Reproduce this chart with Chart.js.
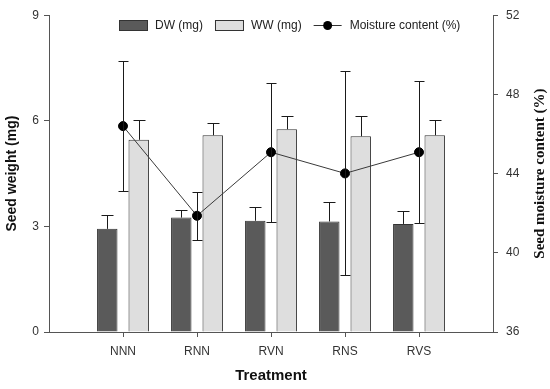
<!DOCTYPE html>
<html>
<head>
<meta charset="utf-8">
<script src="https://cdn.jsdelivr.net/npm/chart.js@4"></script>
<style>body{margin:0;background:#fff}</style>
</head>
<body>
<canvas id="cnv" width="550" height="389"></canvas>
<script>
// values
var treatments = ['NNN', 'RNN', 'RVN', 'RNS', 'RVS'];
var dwMean = [2.93, 3.25, 3.16, 3.14, 3.07];
var dwErr = [0.39, 0.21, 0.38, 0.54, 0.36];
var wwMean = [5.46, 5.59, 5.76, 5.56, 5.59];
var wwErr = [0.55, 0.36, 0.38, 0.58, 0.42];
var moisture = [46.4, 41.87, 45.08, 44.01, 45.08];
var moistureErr = [3.3, 1.2, 3.52, 5.15, 3.6];

// empty slot on each side so the groups sit one step in from the axes
var pad = function(arr) { return [null].concat(arr, [null]); };
var labels = [''].concat(treatments, ['']);

var sansFont = '"Liberation Sans", Arial, sans-serif';
Chart.defaults.font.family = sansFont;
Chart.defaults.color = '#333';

var errorBars = {
  id: 'errorBars',
  afterDatasetsDraw: function(chart) {
    var c = chart.ctx;
    c.save();
    c.strokeStyle = '#1a1a1a';
    c.lineWidth = 1;
    chart.data.datasets.forEach(function(ds, i) {
      var meta = chart.getDatasetMeta(i);
      var scale = chart.scales[meta.yAxisID];
      var isLine = ds.type == 'line';
      meta.data.forEach(function(el, j) {
        var v = ds.data[j];
        if (v == null) return;
        var e = ds.errors[j];
        var x = Math.round(el.x) + 0.5;
        var top = Math.round(scale.getPixelForValue(v + e)) + 0.5;
        var bottom = isLine ? Math.round(scale.getPixelForValue(v - e)) + 0.5 : el.y;
        var w = isLine ? 5 : 6;
        c.beginPath();
        c.moveTo(x, top); c.lineTo(x, bottom);
        c.moveTo(x - w, top); c.lineTo(x + w, top);
        if (isLine) { c.moveTo(x - w, bottom); c.lineTo(x + w, bottom); }
        c.stroke();
      });
    });
    c.restore();
  }
};

var extras = {
  id: 'extras',
  afterDraw: function(chart) {
    var c = chart.ctx;
    c.save();
    // legend inside plot area
    c.font = '12px ' + sansFont;
    c.textBaseline = 'middle';
    var x = 119, y = 25;
    chart.data.datasets.forEach(function(ds) {
      if (ds.type == 'line') {
        c.strokeStyle = '#333';
        c.lineWidth = 1;
        c.beginPath(); c.moveTo(x, y + 0.5); c.lineTo(x + 28, y + 0.5); c.stroke();
        c.fillStyle = '#000';
        c.beginPath(); c.arc(x + 14, y + 0.5, 4.5, 0, Math.PI * 2); c.fill();
      } else {
        c.fillStyle = ds.backgroundColor;
        c.fillRect(x, y - 5, 28, 10);
        c.strokeStyle = '#333';
        c.lineWidth = 1;
        c.strokeRect(x + 0.5, y - 4.5, 28, 10);
      }
      c.fillStyle = '#222';
      c.fillText(ds.label, x + 36, y + 1);
      x += 36 + c.measureText(ds.label).width + 12;
    });
    // right axis title, reading bottom to top
    var a = chart.chartArea;
    c.font = 'bold 15px "Liberation Serif", "Times New Roman", serif';
    c.fillStyle = '#111';
    c.textAlign = 'center';
    c.translate(540, (a.top + a.bottom) / 2);
    c.rotate(-Math.PI / 2);
    c.fillText('Seed moisture content (%)', 0, 0);
    c.restore();
  }
};

var ctx = document.getElementById('cnv').getContext('2d');
var myChart = new Chart(ctx, {
  data: {
    labels: labels,
    datasets: [
      {
        type: 'bar',
        label: 'DW (mg)',
        data: pad(dwMean),
        errors: pad(dwErr),
        yAxisID: 'y',
        backgroundColor: '#5a5a5a',
        borderColor: '#333',
        borderWidth: 1,
        categoryPercentage: 0.85,
        barPercentage: 0.65,
        order: 1
      },
      {
        type: 'bar',
        label: 'WW (mg)',
        data: pad(wwMean),
        errors: pad(wwErr),
        yAxisID: 'y',
        backgroundColor: '#dedede',
        borderColor: '#333',
        borderWidth: 1,
        categoryPercentage: 0.85,
        barPercentage: 0.65,
        order: 1
      },
      {
        type: 'line',
        label: 'Moisture content (%)',
        data: pad(moisture),
        errors: pad(moistureErr),
        yAxisID: 'y2',
        borderColor: '#3a3a3a',
        borderWidth: 1,
        pointRadius: 4.5,
        pointBackgroundColor: '#000',
        pointBorderColor: '#000',
        order: 0
      }
    ]
  },
  options: {
    responsive: false,
    animation: false,
    layout: { padding: { top: 13, left: 0, right: 0, bottom: 0 } },
    plugins: {
      legend: { display: false },
      tooltip: { enabled: false }
    },
    scales: {
      x: {
        offset: false,
        grid: {
          offset: false,
          drawOnChartArea: false,
          tickLength: 5,
          color: function(c) { return (c.index == 0 || c.index == labels.length - 1) ? 'rgba(0,0,0,0)' : '#555'; }
        },
        border: { color: '#555' },
        ticks: { padding: 7, maxRotation: 0, autoSkip: false, font: { size: 12 } },
        title: { display: true, text: 'Treatment', color: '#111', font: { size: 15, weight: 'bold' }, padding: { top: 4, bottom: 4 } },
        afterFit: function(s) { s.height = 57; }
      },
      y: {
        position: 'left',
        min: 0,
        max: 9,
        ticks: { stepSize: 3, padding: 5, font: { size: 12 } },
        grid: { drawOnChartArea: false, tickLength: 5, color: '#555' },
        border: { color: '#555' },
        title: { display: true, text: 'Seed weight (mg)', color: '#111', font: { size: 14, weight: 'bold' }, padding: { top: 4, bottom: 4 } },
        afterFit: function(s) { s.width = 49; }
      },
      y2: {
        position: 'right',
        min: 36,
        max: 52,
        ticks: { stepSize: 4, padding: 8, font: { size: 12 } },
        grid: { drawOnChartArea: false, tickLength: 5, color: '#555' },
        border: { color: '#555' },
        afterFit: function(s) { s.width = 57; }
      }
    }
  },
  plugins: [errorBars, extras]
});
</script>
</body>
</html>
